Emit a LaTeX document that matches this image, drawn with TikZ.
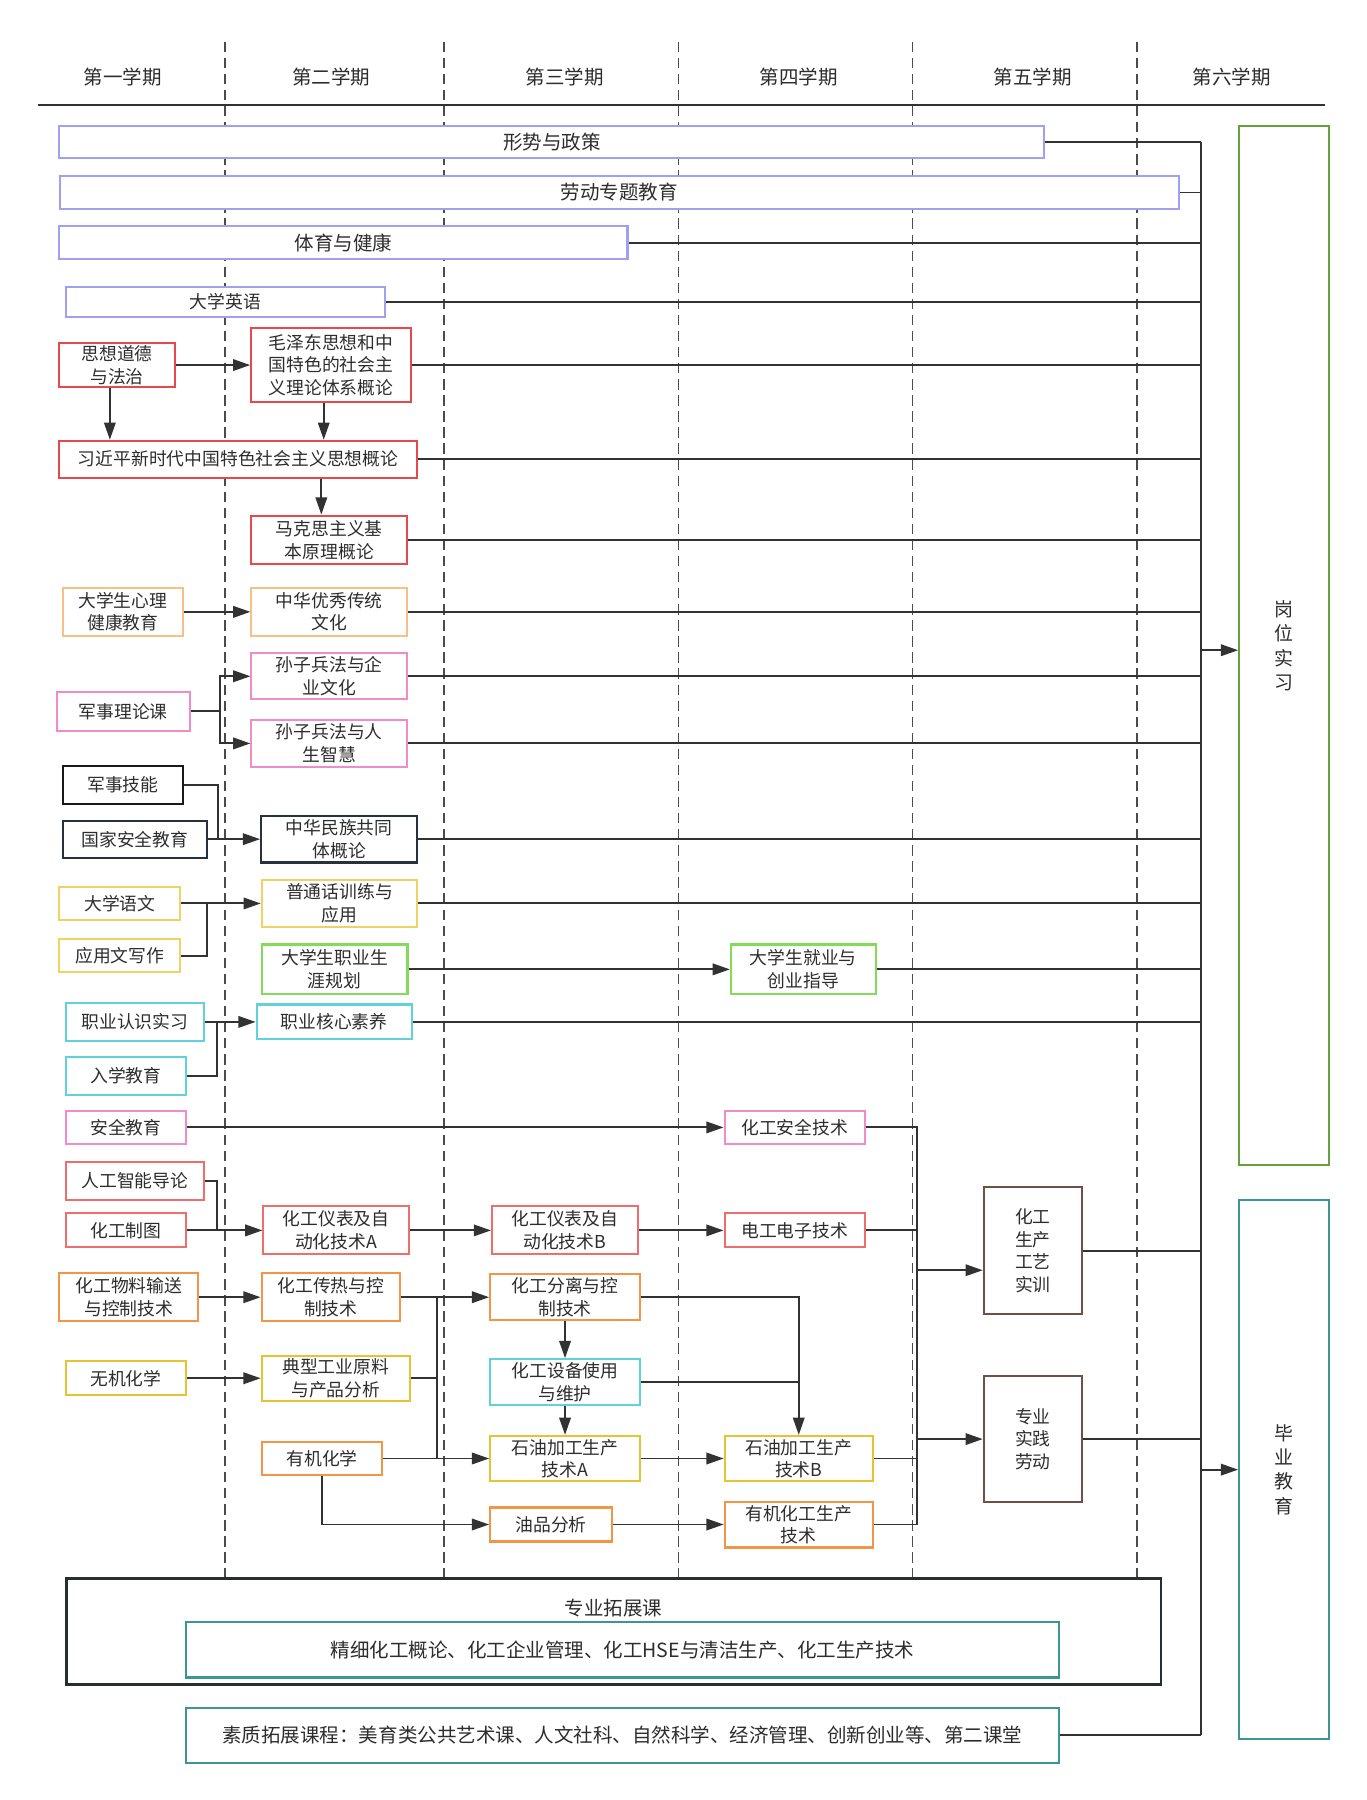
\documentclass[tikz,border=0pt]{standalone}
\usepackage{fontspec}
\setmainfont{Noto Sans CJK SC}
\usetikzlibrary{arrows.meta}
\definecolor{txt}{RGB}{45,45,45}
\definecolor{lc}{RGB}{50,50,50}
\definecolor{dsh}{RGB}{75,75,75}
\definecolor{lav}{RGB}{160,160,240}
\definecolor{red1}{RGB}{232,72,72}
\definecolor{orl}{RGB}{248,192,135}
\definecolor{pnk}{RGB}{240,140,200}
\definecolor{blk}{RGB}{25,25,25}
\definecolor{slt}{RGB}{40,50,60}
\definecolor{yll}{RGB}{240,210,100}
\definecolor{grl}{RGB}{130,220,90}
\definecolor{cyn}{RGB}{95,210,220}
\definecolor{sal}{RGB}{238,110,110}
\definecolor{org}{RGB}{240,150,70}
\definecolor{yel}{RGB}{230,195,50}
\definecolor{brn}{RGB}{110,80,70}
\definecolor{dgr}{RGB}{100,160,60}
\definecolor{tea}{RGB}{60,150,150}
\definecolor{dsl}{RGB}{40,45,50}
\newcommand\myNF{\fontsize{15.5}{19.6}\selectfont}
\newcommand\myHF{\fontsize{17}{20}\selectfont}
\newcommand\myVF{\fontsize{16.5}{21.2}\selectfont}
\tikzset{
  box/.style={draw, fill=white, line width=1.8pt, inner sep=0pt, align=center, text=txt, font=\myNF},
  ln/.style={line width=1.7pt, draw=lc},
  ar/.style={ln, -{Triangle[length=15pt,width=10pt]}},
  sem/.style={line width=1.4pt, draw=dsh, dash pattern=on 9pt off 5pt},
  hdr/.style={font=\myHF, text=txt, inner sep=0pt}
}
\begin{document}
\begin{tikzpicture}[x=1pt,y=-1pt]
\useasboundingbox (0,0) rectangle (1190,1568);
\fill[white] (0,0) rectangle (1190,1568);

% semester dividers
\foreach \x in {195.8,386.8,590.9,794.8,990.6}
  \draw[sem] (\x,36.3) -- (\x,1374);
\draw[line width=1.9pt, draw=lc] (33,91.5) -- (1154,91.5);
\node[hdr] (h1) at (107,66.8) {第一学期};
\node[hdr] (h2) at (288.4,66.8) {第二学期};
\node[hdr] (h3) at (492,66.8) {第三学期};
\node[hdr] (h4) at (695.8,66.8) {第四学期};
\node[hdr] (h5) at (899.8,66.8) {第五学期};
\node[hdr] (h6) at (1073,66.8) {第六学期};

\coordinate (bus) at (1046,0);
\coordinate (b2) at (799,0);
\coordinate (j1) at (191.7,0);
\coordinate (j2) at (190.2,0);
\coordinate (j3) at (180.5,0);
\coordinate (j4) at (189.4,0);
\coordinate (j6) at (189.4,0);
\coordinate (j5) at (380.4,0);

% nodes
\node[box,draw=lav,font=\myHF,minimum width=858,minimum height=28] (xszc) at (480.7,124) {形势与政策};
\node[box,draw=lav,font=\myHF,minimum width=975,minimum height=28] (ldzt) at (539.5,167.7) {劳动专题教育};
\node[box,draw=lav,font=\myHF,minimum width=495,minimum height=29] (tyjk) at (299.1,211.3) {体育与健康};
\node[box,draw=lav,minimum width=278.5,minimum height=26.7] (dxyy) at (196.5,263) {大学英语};

\node[box,draw=red1,minimum width=101,minimum height=39] (sxdd) at (102,318) {思想道德\\与法治};
\node[box,draw=red1,minimum width=139,minimum height=64.7] (mzd) at (288.4,317.9) {毛泽东思想和中\\国特色的社会主\\义理论体系概论};
\node[box,draw=red1,minimum width=311.3,minimum height=32] (xjp) at (207.4,400) {习近平新时代中国特色社会主义思想概论};
\node[box,draw=red1,minimum width=135.7,minimum height=42.4] (mks) at (286.9,470.4) {马克思主义基\\本原理概论};

\node[box,draw=orl,minimum width=105,minimum height=42] (xljk) at (107,533) {大学生心理\\健康教育};
\node[box,draw=orl,minimum width=135.7,minimum height=42] (zhyx) at (286.9,533) {中华优秀传统\\文化};

\node[box,draw=pnk,minimum width=116,minimum height=34.3] (jsll) at (107.4,619.6) {军事理论课};
\node[box,draw=pnk,minimum width=135.7,minimum height=40.2] (szqy) at (286.9,589.1) {孙子兵法与企\\业文化};
\node[box,draw=pnk,minimum width=135.7,minimum height=40.7] (szrs) at (286.9,647.6) {孙子兵法与人\\生智慧};

\node[box,draw=blk,minimum width=105,minimum height=33.4] (jsjn) at (107,684) {军事技能};
\node[box,draw=slt,minimum width=126,minimum height=32] (gjaq) at (117.5,731) {国家安全教育};
\node[box,draw=slt,minimum width=135.8,minimum height=40.6] (zhmz) at (295.4,731) {中华民族共同\\体概论};

\node[box,draw=yll,minimum width=105.3,minimum height=29.4] (dxyw) at (104.4,787) {大学语文};
\node[box,draw=yll,minimum width=105.3,minimum height=29.3] (yyww) at (104.4,832.4) {应用文写作};
\node[box,draw=yll,minimum width=135.3,minimum height=41] (pth) at (295.7,787) {普通话训练与\\应用};

\node[box,draw=grl,minimum width=127,minimum height=43.3] (zysy) at (291.5,844.4) {大学生职业生\\涯规划};
\node[box,draw=grl,minimum width=126,minimum height=43.3] (jycy) at (699.7,844.4) {大学生就业与\\创业指导};

\node[box,draw=cyn,minimum width=120.6,minimum height=33.4] (zyrs) at (117.5,890.2) {职业认识实习};
\node[box,draw=cyn,minimum width=105,minimum height=33.4] (rxjy) at (109.7,937.2) {入学教育};
\node[box,draw=cyn,minimum width=135,minimum height=30.4] (zyhx) at (291.1,890.2) {职业核心素养};

\node[box,draw=pnk,minimum width=105,minimum height=29] (aqjy) at (109.7,982.1) {安全教育};
\node[box,draw=pnk,minimum width=122,minimum height=29] (hgaq) at (692.2,982.1) {化工安全技术};
\node[box,draw=sal,minimum width=120.5,minimum height=33.4] (rgzn) at (117.5,1028.7) {人工智能导论};
\node[box,draw=sal,minimum width=105,minimum height=29.6] (hgzt) at (109.7,1071.8) {化工制图};
\node[box,draw=sal,minimum width=126.4,minimum height=41.7] (ybA) at (292.7,1071.8) {化工仪表及自\\动化技术A};
\node[box,draw=sal,minimum width=126.8,minimum height=41.7] (ybB) at (492,1071.8) {化工仪表及自\\动化技术B};
\node[box,draw=sal,minimum width=122,minimum height=29.6] (dgdz) at (692.2,1071.8) {电工电子技术};
\node[box,draw=org,minimum width=121,minimum height=42] (wlss) at (112.2,1130) {化工物料输送\\与控制技术};
\node[box,draw=org,minimum width=120.5,minimum height=42] (crkz) at (288.2,1130) {化工传热与控\\制技术};
\node[box,draw=org,minimum width=130.4,minimum height=40] (flkz) at (492.2,1130) {化工分离与控\\制技术};
\node[box,draw=yel,minimum width=105,minimum height=29.3] (wjhx) at (109.7,1200.6) {无机化学};
\node[box,draw=yel,minimum width=129,minimum height=39.5] (dxgy) at (292.5,1200.6) {典型工业原料\\与产品分析};
\node[box,draw=cyn,minimum width=130.4,minimum height=40] (sbsy) at (492.2,1204) {化工设备使用\\与维护};
\node[box,draw=org,minimum width=105,minimum height=29] (yjhx) at (280.5,1270.5) {有机化学};
\node[box,draw=yel,minimum width=130.4,minimum height=39.3] (syA) at (492.2,1270.5) {石油加工生产\\技术A};
\node[box,draw=yel,minimum width=129,minimum height=39.3] (syB) at (695.8,1270.5) {石油加工生产\\技术B};
\node[box,draw=org,minimum width=106,minimum height=29.6] (ypfx) at (480,1328) {油品分析};
\node[box,draw=org,minimum width=129,minimum height=40] (yjsc) at (695.8,1328) {有机化工生产\\技术};
\node[box,draw=brn,minimum width=85.6,minimum height=110.3] (hgsx) at (899.8,1089.5) {化工\\生产\\工艺\\实训};
\node[box,draw=brn,minimum width=85.6,minimum height=110.3] (zysj) at (899.8,1253.6) {专业\\实践\\劳动};

\node[box,draw=dgr,font=\myVF,minimum width=78.5,minimum height=905] (gwsx) at (1118.7,562.4) {岗\\位\\实\\习};
\node[box,draw=tea,font=\myVF,minimum width=78.5,minimum height=469.6] (byjy) at (1118.7,1280.2) {毕\\业\\教\\育};

\node[box,draw=dsl,line width=2.2pt,minimum width=953.8,minimum height=92.3] (zytz) at (534.6,1421.2) {};
\node[hdr] (zytzt) at (534.6,1401) {专业拓展课};
\node[box,draw=tea,font=\myHF,minimum width=761,minimum height=48.5] (jxhg) at (542.2,1437) {精细化工概论、化工企业管理、化工HSE与清洁生产、化工生产技术};
\node[box,draw=tea,font=\myHF,minimum width=761,minimum height=48.2] (sztz) at (542.2,1511.7) {素质拓展课程：美育类公共艺术课、人文社科、自然科学、经济管理、创新创业等、第二课堂};

% lines to the right bus
\foreach \n in {xszc,ldzt,tyjk,dxyy,mzd,xjp,mks,zhyx,szqy,szrs,zhmz,pth,jycy,zyhx,hgsx,zysj,sztz}
  \draw[ln] (\n.east) -- (\n.east -| bus);
\draw[ln] (xszc.east -| bus) -- (sztz.east -| bus);
\path ([yshift=-4pt]gwsx.west) coordinate (gwin);
\draw[ar] (gwin -| bus) -- (gwin);
\draw[ar] (byjy.west -| bus) -- (byjy.west);

% upper connectors
\draw[ar] (sxdd.east) -- (sxdd.east -| mzd.west);
\path ([xshift=-6.3pt]sxdd.south) coordinate (a1);
\draw[ar] (a1) -- (a1 |- xjp.north);
\path ([xshift=-6.4pt]mzd.south) coordinate (a2);
\draw[ar] (a2) -- (a2 |- xjp.north);
\path ([xshift=-7pt]mks.north) coordinate (a3);
\draw[ar] (a3 |- xjp.south) -- (a3);
\draw[ar] (xljk.east) -- (zhyx.west);
\draw[ln] (jsll.east) -- (jsll.east -| j1);
\draw[ar] (jsll.east -| j1) |- (szqy.west);
\draw[ar] (jsll.east -| j1) |- (szrs.west);
\draw[ln] (jsjn.east) -| (j2 |- zhmz.west);
\draw[ar] (gjaq.east) -- (zhmz.west);
\draw[ar] (dxyw.east) -- (dxyw.east -| pth.west);
\draw[ln] (yyww.east) -| (j3 |- dxyw.east);
\draw[ar] (zysy.east) -- (jycy.west);
\draw[ar] (zyrs.east) -- (zyhx.west);
\draw[ln] (rxjy.east) -| (j4 |- zyrs.east);

% lower connectors
\draw[ar] (aqjy.east) -- (hgaq.west);
\draw[ln] (rgzn.east) -| (j6 |- hgzt.east);
\draw[ar] (hgzt.east) -- (ybA.west);
\draw[ar] (ybA.east) -- (ybB.west);
\draw[ar] (ybB.east) -- (dgdz.west);
\draw[ar] (wlss.east) -- (crkz.west);
\draw[ar] (crkz.east) -- (flkz.west);
\draw[ln] (crkz.east -| j5) -- (j5 |- syA.west);
\draw[ln] (dxgy.east) -- (dxgy.east -| j5);
\draw[ar] (wjhx.east) -- (wjhx.east -| dxgy.west);
\draw[ar] (yjhx.east) -- (syA.west);
\draw[ar] (flkz.south) -- (sbsy.north);
\draw[ar] (sbsy.south) -- (syA.north);
\draw[ar] (flkz.east) -| (syB.north);
\draw[ln] (sbsy.east) -- (sbsy.east -| syB.north);
\draw[ar] (yjhx.south) |- (ypfx.west);
\draw[ar] (syA.east) -- (syB.west);
\draw[ar] (ypfx.east) -- (yjsc.west);
\draw[ln] (hgaq.east) -| (b2 |- yjsc.east) -- (yjsc.east);
\draw[ln] (dgdz.east) -- (dgdz.east -| b2);
\draw[ln] (syB.east) -- (syB.east -| b2);
\path ([yshift=-17pt]hgsx.west) coordinate (sxin);
\draw[ar] (sxin -| b2) -- (sxin);
\draw[ar] (zysj.west -| b2) -- (zysj.west);
\end{tikzpicture}
\end{document}
